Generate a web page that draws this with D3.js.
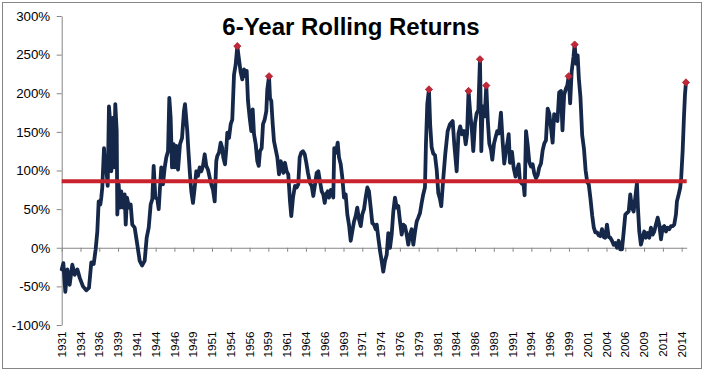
<!DOCTYPE html>
<html><head><meta charset="utf-8">
<script src="https://cdn.jsdelivr.net/npm/d3@7"></script>
<style>
html,body{margin:0;padding:0;background:#fff;}
svg{display:block;font-family:"Liberation Sans",Arial,sans-serif;}
</style>
</head><body>
<svg id="chart" width="706" height="377"></svg>
<script>
const chartTitle = "6-Year Rolling Returns";
const xTickLabels = ["1931","1934","1936","1939","1941","1944","1946","1949","1951","1954","1956","1959","1961","1964","1966","1969","1971","1974","1976","1979","1981","1984","1986","1989","1991","1994","1996","1999","2001","2004","2006","2009","2011","2014"];
const firstTickYear = 1931.5;
const tickStepYears = 2.5;
const yTicks = [-100,-50,0,50,100,150,200,250,300];
const averageReturn = 86;
const peakYears = [1954.87,1959.09,1980.37,1985.64,1987.16,1988.00,1998.96,1999.76,2014.57];
// [year, 6-year rolling return %]
const rollingReturns = [
[1931.50,-28],[1931.72,-20],[1931.98,-57],[1932.25,-28],[1932.56,-48],[1932.91,-22],[1933.23,-35],[1933.58,-28],[1933.90,-39],[1934.33,-50],
[1934.77,-55],[1935.13,-52],[1935.44,-19],[1935.76,-21],[1936.02,-2],[1936.24,21],[1936.42,60],[1936.64,56],[1936.77,65],[1936.90,78],
[1937.13,129],[1937.30,99],[1937.43,104],[1937.62,80],[1937.79,183],[1937.97,160],[1938.10,99],[1938.29,168],[1938.46,104],[1938.63,186],
[1938.82,151],[1938.90,43],[1939.08,82],[1939.26,52],[1939.43,73],[1939.66,52],[1939.88,69],[1940.02,30],[1940.19,65],[1940.46,52],
[1940.68,56],[1940.89,30],[1941.21,26],[1941.56,4],[1941.88,-17],[1942.19,-23],[1942.54,-17],[1942.81,13],[1943.08,26],[1943.34,56],
[1943.56,63],[1943.74,106],[1943.96,65],[1944.22,63],[1944.41,50],[1944.58,78],[1944.75,104],[1944.98,82],[1945.21,104],[1945.42,117],
[1945.65,125],[1945.82,194],[1946.00,168],[1946.18,104],[1946.40,134],[1946.54,104],[1946.75,132],[1946.98,101],[1947.24,134],[1947.51,142],
[1947.77,177],[1947.91,186],[1948.21,151],[1948.35,127],[1948.57,95],[1948.75,73],[1948.97,58],[1949.20,78],[1949.41,99],[1949.64,93],
[1949.86,104],[1950.08,99],[1950.30,106],[1950.53,121],[1950.74,106],[1950.97,101],[1951.19,91],[1951.41,82],[1951.63,75],[1951.86,60],
[1952.07,112],[1952.21,119],[1952.43,123],[1952.66,136],[1952.87,129],[1953.00,117],[1953.23,108],[1953.40,127],[1953.54,149],[1953.76,142],
[1953.99,160],[1954.20,166],[1954.43,224],[1954.65,237],[1954.87,261],[1955.09,244],[1955.32,227],[1955.53,218],[1955.76,231],[1955.98,222],
[1956.12,229],[1956.29,190],[1956.52,168],[1956.73,151],[1956.92,179],[1957.09,147],[1957.32,134],[1957.53,112],[1957.72,106],[1957.89,125],
[1958.11,129],[1958.29,160],[1958.51,166],[1958.73,177],[1958.86,205],[1959.09,222],[1959.22,194],[1959.39,190],[1959.58,160],[1959.75,138],
[1959.98,127],[1960.19,117],[1960.42,95],[1960.64,112],[1960.85,106],[1960.99,97],[1961.21,110],[1961.44,99],[1961.65,95],[1961.88,60],
[1962.05,41],[1962.28,65],[1962.54,80],[1962.77,78],[1962.98,82],[1963.17,117],[1963.38,123],[1963.61,125],[1963.84,121],[1964.05,110],
[1964.27,97],[1964.54,84],[1964.77,80],[1964.98,67],[1965.21,82],[1965.43,97],[1965.65,99],[1965.87,86],[1966.10,73],[1966.31,69],
[1966.50,58],[1966.67,69],[1966.90,73],[1967.07,65],[1967.30,75],[1967.51,73],[1967.64,65],[1967.77,129],[1968.00,123],[1968.23,136],
[1968.40,117],[1968.63,108],[1968.84,91],[1969.07,65],[1969.29,69],[1969.51,43],[1969.73,30],[1969.96,9],[1970.17,21],[1970.40,34],
[1970.62,41],[1970.83,52],[1971.06,37],[1971.29,28],[1971.50,43],[1971.73,50],[1971.95,65],[1972.17,78],[1972.39,73],[1972.62,52],
[1972.83,32],[1973.06,30],[1973.28,24],[1973.42,30],[1973.63,13],[1973.86,-4],[1974.08,-17],[1974.29,-31],[1974.52,-17],[1974.75,-9],
[1974.96,19],[1975.19,0],[1975.41,17],[1975.63,47],[1975.85,65],[1976.08,52],[1976.29,54],[1976.52,34],[1976.74,17],[1976.96,30],
[1977.18,28],[1977.41,17],[1977.62,4],[1977.85,17],[1978.07,24],[1978.29,4],[1978.51,20],[1978.74,34],[1978.95,39],[1979.18,45],
[1979.40,58],[1979.61,69],[1979.84,78],[1979.97,134],[1980.15,186],[1980.37,205],[1980.54,158],[1980.73,130],[1980.94,122],[1981.17,120],
[1981.40,101],[1981.61,71],[1981.84,63],[1982.01,54],[1982.28,90],[1982.54,121],[1982.86,151],[1983.17,160],[1983.53,164],[1983.74,134],
[1984.06,99],[1984.30,148],[1984.53,157],[1984.77,147],[1985.04,151],[1985.26,134],[1985.44,147],[1985.64,203],[1985.86,175],[1986.10,150],
[1986.27,125],[1986.50,161],[1986.72,174],[1986.94,178],[1987.16,244],[1987.34,125],[1987.52,183],[1987.79,170],[1988.00,210],[1988.20,165],
[1988.40,135],[1988.63,127],[1988.80,114],[1989.03,135],[1989.24,143],[1989.46,151],[1989.69,148],[1989.95,175],[1990.18,137],[1990.39,109],
[1990.62,126],[1990.84,137],[1990.98,147],[1991.15,110],[1991.42,124],[1991.65,103],[1991.89,92],[1992.13,102],[1992.31,108],[1992.48,86],
[1992.75,83],[1992.92,86],[1993.10,68],[1993.29,151],[1993.51,133],[1993.72,111],[1993.95,105],[1994.17,108],[1994.39,96],[1994.61,90],
[1994.84,94],[1995.05,104],[1995.28,109],[1995.50,126],[1995.72,135],[1995.94,139],[1996.17,180],[1996.38,174],[1996.61,155],[1996.83,136],
[1997.03,173],[1997.25,172],[1997.47,164],[1997.70,201],[1997.94,203],[1998.14,152],[1998.36,198],[1998.60,206],[1998.78,210],[1998.96,222],
[1999.16,187],[1999.36,228],[1999.60,247],[1999.76,263],[1999.96,238],[2000.16,249],[2000.32,219],[2000.53,195],[2000.76,146],[2001.00,128],
[2001.22,100],[2001.43,85],[2001.64,82],[2001.87,63],[2002.09,42],[2002.31,26],[2002.51,20],[2002.73,20],[2002.96,16],[2003.17,15],
[2003.40,24],[2003.62,14],[2003.83,13],[2004.06,30],[2004.29,14],[2004.50,13],[2004.73,9],[2004.95,4],[2005.17,6],[2005.40,0],
[2005.62,9],[2005.83,-2],[2006.06,-2],[2006.29,21],[2006.50,43],[2006.72,45],[2006.95,47],[2007.16,69],[2007.39,52],[2007.61,47],
[2007.83,65],[2008.05,84],[2008.18,52],[2008.36,21],[2008.58,4],[2008.81,13],[2009.02,21],[2009.25,13],[2009.47,19],[2009.69,13],
[2009.91,26],[2010.14,17],[2010.35,21],[2010.58,30],[2010.81,39],[2011.02,30],[2011.25,11],[2011.47,26],[2011.68,28],[2011.91,21],
[2012.13,26],[2012.35,24],[2012.57,28],[2012.80,28],[2013.01,30],[2013.24,43],[2013.37,60],[2013.60,69],[2013.81,78],[2013.94,91],
[2014.13,125],[2014.30,168],[2014.44,198],[2014.57,214]
];

const svg = d3.select("#chart");
const plot = {left:61.7, right:686.7, top:16, bottom:325};
const axisColor = "#868686";

const x = d3.scaleLinear().domain([1931.5, 2014.67]).range([plot.left, plot.right]);
const y = d3.scaleLinear().domain([-100, 300]).range([plot.bottom, plot.top]);

// chart area border
svg.append("rect").attr("x",2.5).attr("y",2.5).attr("width",699).attr("height",366)
  .attr("fill","#fff").attr("stroke",axisColor).attr("stroke-width",1);

// title
svg.append("text").attr("x",351).attr("y",35).attr("text-anchor","middle")
  .attr("font-size",24).attr("font-weight","bold").attr("fill","#000").text(chartTitle);

// y axis
const yAxis = svg.append("g").attr("transform",`translate(${plot.left},0)`)
  .call(d3.axisLeft(y).tickValues(yTicks).tickFormat(d=>d+"%").tickSize(5).tickSizeOuter(0).tickPadding(6.5));
yAxis.selectAll("path,line").attr("stroke",axisColor);
yAxis.selectAll("text").attr("font-size",13.3).attr("fill","#000").attr("font-family","'Liberation Sans',Arial,sans-serif");

// x axis at 0%
const tickVals = xTickLabels.map((d,i)=>firstTickYear + i*tickStepYears);
const xAxis = svg.append("g").attr("transform",`translate(0,${y(0)})`)
  .call(d3.axisBottom(x).tickValues(tickVals).tickFormat("").tickSize(4).tickSizeOuter(0));
xAxis.selectAll("path,line").attr("stroke",axisColor);

// x tick labels at the bottom, rotated
svg.append("g").selectAll("text").data(xTickLabels).join("text")
  .attr("transform",(d,i)=>`translate(${x(tickVals[i])},${plot.bottom+6.5}) rotate(-90)`)
  .attr("text-anchor","end").attr("dy","0.35em")
  .attr("font-size",11.7).attr("fill","#000").text(d=>d);

// line
const line = d3.line().x(d=>x(d[0])).y(d=>y(d[1]));
svg.append("path").datum(rollingReturns).attr("d",line)
  .attr("fill","none").attr("stroke","#15284a").attr("stroke-width",3.8)
  .attr("stroke-linejoin","round").attr("stroke-linecap","round");

// average line
svg.append("line").attr("x1",plot.left).attr("x2",plot.right)
  .attr("y1",y(averageReturn)).attr("y2",y(averageReturn))
  .attr("stroke","#c8232c").attr("stroke-width",4);

// peak markers
const peaks = rollingReturns.filter(d=>peakYears.includes(d[0]));
svg.append("g").selectAll("path").data(peaks).join("path")
  .attr("transform",d=>`translate(${x(d[0])},${y(d[1])}) rotate(45)`)
  .attr("d",d3.symbol().type(d3.symbolSquare).size(26))
  .attr("fill","#c0283a").attr("stroke","#b0202e").attr("stroke-width",0.8);
</script>
</body></html>
